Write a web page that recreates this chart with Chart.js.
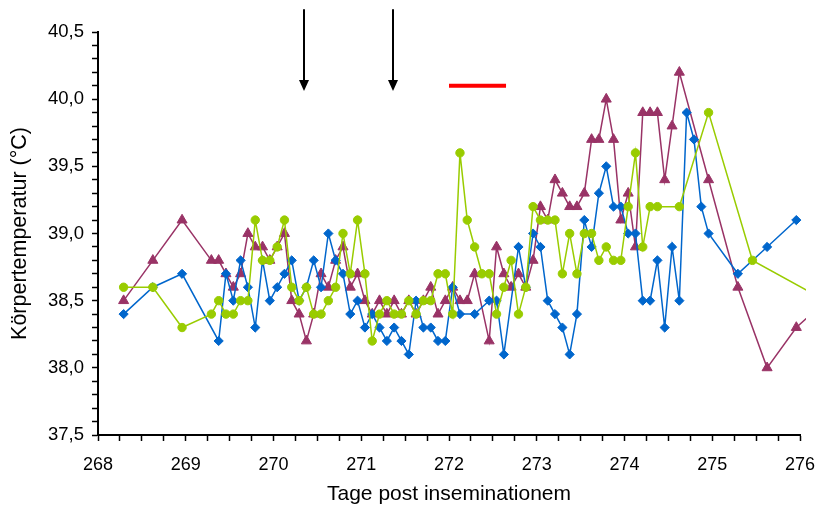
<!DOCTYPE html>
<html lang="de">
<head>
<meta charset="utf-8">
<title>Körpertemperatur</title>
<script src="https://cdn.jsdelivr.net/npm/chart.js@4.4.1/dist/chart.umd.min.js"></script>
<style>
  html, body { margin: 0; padding: 0; background: #fff; }
  #wrap { width: 820px; height: 509px; }
</style>
</head>
<body>
<div id="wrap"><canvas id="c" width="820" height="509"></canvas></div>
<script>
// Messzeitpunkte in Tagen post inseminationem
const zeit = [
  268.292, 268.625, 268.958,
  269.292, 269.375, 269.458, 269.542, 269.625, 269.708, 269.792, 269.875, 269.958,
  270.042, 270.125, 270.208, 270.292, 270.375, 270.458, 270.542, 270.625, 270.708, 270.792, 270.875, 270.958,
  271.042, 271.125, 271.208, 271.292, 271.375, 271.458, 271.542, 271.625, 271.708, 271.792, 271.875, 271.958,
  272.042, 272.125, 272.208, 272.292, 272.375, 272.458, 272.542, 272.625, 272.708, 272.792, 272.875, 272.958,
  273.042, 273.125, 273.208, 273.292, 273.375, 273.458, 273.542, 273.625, 273.708, 273.792, 273.875, 273.958,
  274.042, 274.125, 274.208, 274.292, 274.375, 274.458, 274.542, 274.625, 274.708, 274.792, 274.875, 274.958,
  275.292, 275.458, 275.625, 275.958,
  276.292
];

// Körpertemperatur (°C) der drei Tiere, null = keine Messung
const blau = [
  38.4, 38.6, 38.7,
  null, 38.2, 38.7, 38.5, 38.8, 38.6, 38.3, 38.8, 38.5,
  38.6, 38.7, 38.8, 38.5, 38.6, 38.8, 38.6, 39.0, 38.8, 38.7, 38.4, 38.5,
  38.3, 38.4, 38.3, 38.2, 38.3, 38.2, 38.1, 38.5, 38.3, 38.3, 38.2, 38.2,
  38.6, 38.4, null, 38.4, null, 38.5, 38.5, 38.1, null, 38.9, 38.6, 39.0,
  38.9, 38.5, 38.4, 38.3, 38.1, 38.4, 39.1, 38.9, 39.3, 39.5, 39.2, 39.2,
  39.0, 39.0, 38.5, 38.5, 38.8, 38.3, 38.9, 38.5, 39.9, 39.7, 39.2, 39.0,
  38.7, null, 38.9, 39.1,
  null
];

const lila = [
  38.5, 38.8, 39.1,
  38.8, 38.8, 38.7, 38.6, 38.7, 39.0, 38.9, 38.9, 38.8,
  38.9, 39.0, 38.5, 38.4, 38.2, 38.4, 38.7, 38.6, 38.8, 38.9, 38.6, 38.7,
  38.5, 38.4, 38.5, 38.4, 38.5, 38.4, 38.5, 38.4, 38.5, 38.6, 38.4, 38.5,
  38.6, 38.5, 38.5, 38.7, null, 38.2, 38.9, 38.7, 38.6, 38.7, 38.6, 38.8,
  39.2, 39.1, 39.4, 39.3, 39.2, 39.2, 39.3, 39.7, 39.7, 40.0, 39.7, 39.1,
  39.3, 38.9, 39.9, 39.9, 39.9, 39.4, 39.8, 40.2, null, null, null, 39.4,
  38.6, null, 38.0, 38.3,
  38.5
];

const gruen = [
  38.6, 38.6, 38.3,
  38.4, 38.5, 38.4, 38.4, 38.5, 38.5, 39.1, 38.8, 38.8,
  38.9, 39.1, 38.6, 38.5, 38.6, 38.4, 38.4, 38.5, 38.6, 39.0, 38.7, 39.1,
  38.7, 38.2, 38.4, 38.5, 38.4, 38.4, 38.5, 38.4, 38.5, 38.5, 38.7, 38.7,
  38.4, 39.6, 39.1, 38.9, 38.7, 38.7, 38.4, 38.6, 38.8, 38.4, 38.6, 39.2,
  39.1, 39.1, 39.1, 38.7, 39.0, 38.7, 39.0, 39.0, 38.8, 38.9, 38.8, 38.8,
  39.2, 39.6, 38.9, 39.2, 39.2, null, null, 39.2, null, null, null, 39.9,
  null, 38.8, null, null,
  38.5
];

// Markierungen oberhalb der Kurven
const pfeilTage = [270.35, 271.36];
const pfeilWerte = [40.67, 40.06];   // Schaftanfang, Pfeilspitze
const balkenTage = [272.0, 272.65];
const balkenWert = 40.1;

const schrift = "'Liberation Sans', Arial, sans-serif";

function punkte(werte) {
  return zeit.map((t, i) => ({ x: t, y: werte[i] }));
}

function reihe(werte, farbe, stil, radius) {
  return {
    data: punkte(werte),
    borderColor: farbe,
    backgroundColor: farbe,
    borderWidth: 1.5,
    pointStyle: stil,
    pointRadius: radius,
    pointBorderWidth: 1,
    pointBorderColor: farbe,
    pointBackgroundColor: farbe,
    tension: 0,
    spanGaps: true,
    clip: { left: 5, right: 6, top: 5, bottom: 5 }
  };
}

const markierungen = {
  id: 'markierungen',
  afterDatasetsDraw(chart) {
    const { ctx, scales: { x, y } } = chart;
    ctx.save();
    ctx.strokeStyle = '#000';
    ctx.fillStyle = '#000';
    ctx.lineWidth = 2;
    pfeilTage.forEach(t => {
      const px = Math.round(x.getPixelForValue(t));
      const oben = y.getPixelForValue(pfeilWerte[0]);
      const spitze = y.getPixelForValue(pfeilWerte[1]);
      ctx.beginPath();
      ctx.moveTo(px, oben);
      ctx.lineTo(px, spitze - 9);
      ctx.stroke();
      ctx.beginPath();
      ctx.moveTo(px - 5, spitze - 11);
      ctx.lineTo(px + 5, spitze - 11);
      ctx.lineTo(px, spitze);
      ctx.closePath();
      ctx.fill();
    });
    const by = y.getPixelForValue(balkenWert);
    ctx.strokeStyle = '#ff0000';
    ctx.lineWidth = 4;
    ctx.beginPath();
    ctx.moveTo(x.getPixelForValue(balkenTage[0]), by);
    ctx.lineTo(x.getPixelForValue(balkenTage[1]), by);
    ctx.stroke();
    ctx.restore();
  }
};

new Chart(document.getElementById('c'), {
  type: 'line',
  data: {
    datasets: [
      reihe(gruen, '#99CC00', 'circle', 4.2),
      reihe(blau, '#0066CC', 'rectRot', 4.6),
      reihe(lila, '#993366', 'triangle', 5.8)
    ]
  },
  options: {
    responsive: false,
    devicePixelRatio: 1,
    animation: false,
    events: [],
    layout: { padding: { top: 32, right: 20, left: 0, bottom: 0 } },
    plugins: { legend: { display: false }, tooltip: { enabled: false } },
    scales: {
      x: {
        type: 'linear',
        min: 268,
        max: 276,
        afterFit: s => { s.height = 74; s.paddingLeft = 0; s.paddingRight = 0; },
        border: { display: true, color: '#000', width: 2 },
        grid: { drawOnChartArea: false, drawTicks: true, tickLength: 6, tickColor: '#000', tickWidth: 1.5 },
        ticks: {
          stepSize: 0.25,
          autoSkip: false,
          maxRotation: 0,
          padding: 13,
          color: '#000',
          font: { family: schrift, size: 18 },
          callback: v => Math.abs(v - Math.round(v)) < 1e-6 ? String(Math.round(v)) : ''
        },
        title: {
          display: true,
          text: 'Tage post inseminationem',
          color: '#000',
          font: { family: schrift, size: 21 },
          padding: { top: 0, bottom: 2 }
        }
      },
      y: {
        min: 37.5,
        max: 40.5,
        afterFit: s => { s.width = 98; s.paddingTop = 0; s.paddingBottom = 0; },
        border: { display: true, color: '#000', width: 2 },
        grid: { drawOnChartArea: false, drawTicks: true, tickLength: 6, tickColor: '#000', tickWidth: 1.5 },
        ticks: {
          stepSize: 0.1,
          autoSkip: false,
          padding: 8,
          color: '#000',
          font: { family: schrift, size: 18.5 },
          callback: v => {
            const r = Math.round(v * 10);
            return r % 5 === 0 ? (r / 10).toFixed(1).replace('.', ',') : '';
          }
        },
        title: {
          display: true,
          text: 'Körpertemperatur (°C)',
          color: '#000',
          font: { family: schrift, size: 21.5 },
          padding: { top: 7, bottom: 0 }
        }
      }
    }
  },
  plugins: [markierungen]
});
</script>
</body>
</html>
